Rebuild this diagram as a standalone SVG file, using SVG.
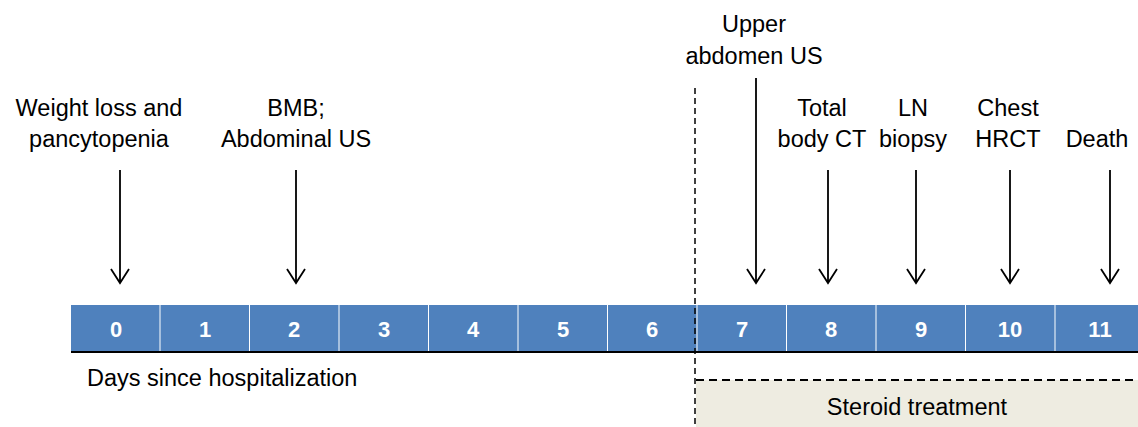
<svg xmlns="http://www.w3.org/2000/svg" width="1138" height="427" viewBox="0 0 1138 427">
<style>
.lbl{font-family:"Liberation Sans",Arial,sans-serif;font-size:23.5px;fill:#000;text-anchor:middle}
.num{font-family:"Liberation Sans",Arial,sans-serif;font-size:22px;font-weight:bold;fill:#fff;text-anchor:middle}
.cell{fill:#4F81BD}
.arr{stroke:#000;stroke-width:1.8;fill:none}
</style>
<rect x="0" y="0" width="1138" height="427" fill="#fff"/>
<g id="steroid">
<rect x="696" y="380" width="442" height="47" fill="#EEECE1"/>
<line x1="696" y1="380" x2="1138" y2="380" stroke="#000" stroke-width="2" stroke-dasharray="8,5"/>
<text class="lbl" x="917" y="415">Steroid treatment</text>
</g>
<g id="timeline">
<rect class="cell" x="71" y="305" width="88.5" height="47"/>
<rect class="cell" x="160.5" y="305" width="88.5" height="47"/>
<rect class="cell" x="250" y="305" width="88.5" height="47"/>
<rect class="cell" x="339.5" y="305" width="88.5" height="47"/>
<rect class="cell" x="429" y="305" width="88.5" height="47"/>
<rect class="cell" x="518.5" y="305" width="88.5" height="47"/>
<rect class="cell" x="608" y="305" width="88.5" height="47"/>
<rect class="cell" x="697.5" y="305" width="88.5" height="47"/>
<rect class="cell" x="787" y="305" width="88.5" height="47"/>
<rect class="cell" x="876.5" y="305" width="88.5" height="47"/>
<rect class="cell" x="966" y="305" width="88.5" height="47"/>
<rect class="cell" x="1055.5" y="305" width="88.5" height="47"/>
<text class="num" x="116" y="337">0</text>
<text class="num" x="205" y="337">1</text>
<text class="num" x="294" y="337">2</text>
<text class="num" x="384" y="337">3</text>
<text class="num" x="473" y="337">4</text>
<text class="num" x="563" y="337">5</text>
<text class="num" x="652" y="337">6</text>
<text class="num" x="742" y="337">7</text>
<text class="num" x="831" y="337">8</text>
<text class="num" x="921" y="337">9</text>
<text class="num" x="1010" y="337">10</text>
<text class="num" x="1100" y="337">11</text>
<line x1="71" y1="352" x2="1138" y2="352" stroke="#000" stroke-width="2.2"/>
<text class="lbl" x="87" y="386" style="text-anchor:start">Days since hospitalization</text>
</g>
<g id="divider">
<line x1="695" y1="88" x2="695" y2="427" stroke="#000" stroke-width="1.5" stroke-dasharray="6,4"/>
</g>
<g id="connectors">
<path class="arr" d="M120,170 V283 M111,269 L120,283 L129,269"/>
<path class="arr" d="M296,170 V283 M287,269 L296,283 L305,269"/>
<path class="arr" d="M756,78 V283 M747,269 L756,283 L765,269"/>
<path class="arr" d="M828,170 V283 M819,269 L828,283 L837,269"/>
<path class="arr" d="M916,170 V283 M907,269 L916,283 L925,269"/>
<path class="arr" d="M1010,170 V283 M1001,269 L1010,283 L1019,269"/>
<path class="arr" d="M1110,170 V283 M1101,269 L1110,283 L1119,269"/>
</g>
<g id="ev0"><text class="lbl" x="99" y="116">Weight loss and</text><text class="lbl" x="99" y="147">pancytopenia</text></g>
<g id="ev2"><text class="lbl" x="296" y="116">BMB;</text><text class="lbl" x="296" y="147">Abdominal US</text></g>
<g id="ev7"><text class="lbl" x="754" y="32">Upper</text><text class="lbl" x="754" y="64">abdomen US</text></g>
<g id="ev8"><text class="lbl" x="822" y="116">Total</text><text class="lbl" x="822" y="147">body CT</text></g>
<g id="ev9"><text class="lbl" x="913" y="116">LN</text><text class="lbl" x="913" y="147">biopsy</text></g>
<g id="ev10"><text class="lbl" x="1008" y="116">Chest</text><text class="lbl" x="1008" y="147">HRCT</text></g>
<g id="ev11"><text class="lbl" x="1097" y="147">Death</text></g>
</svg>
